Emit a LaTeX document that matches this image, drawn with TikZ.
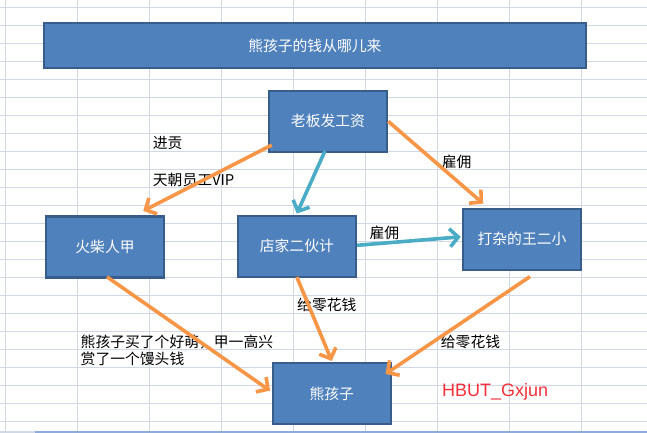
\documentclass[tikz,border=0pt]{standalone}
\usepackage{fontspec}
\setmainfont{Liberation Sans}
\newfontfamily\cjk{Noto Sans CJK SC}
\usetikzlibrary{arrows.meta,calc}
\definecolor{gridc}{HTML}{D0D7E5}
\definecolor{boxfill}{HTML}{4F81BD}
\definecolor{boxedge}{HTML}{385D8A}
\definecolor{orangec}{HTML}{F79646}
\definecolor{tealc}{HTML}{4BACC6}
\definecolor{redc}{HTML}{F5303A}
\definecolor{tabc}{HTML}{8FAADC}
\begin{document}
\begin{tikzpicture}[x=1pt,y=-1pt,
  gridline/.style={draw=gridc, line width=0.9pt},
  box/.style={draw=boxedge, line width=2.5pt, fill=boxfill, text=white,
    font=\cjk\fontsize{14.8}{17}\selectfont, inner sep=0pt,
    minimum width=118pt, minimum height=61pt},
  lbl/.style={anchor=west, inner sep=0pt, text=black,
    font=\cjk\fontsize{14.8}{17}\selectfont},
  orangearrow/.style={draw=orangec, line width=3.6pt,
    -{Straight Barb[length=8.5pt,width=18pt]}},
  tealarrow/.style={draw=tealc, line width=3.6pt,
    -{Straight Barb[length=8.5pt,width=18pt]}}]
\useasboundingbox (0,0) rectangle (647,433);
\fill[white] (0,0) rectangle (647,433);
% spreadsheet grid
\foreach \gx in {5.4,77.5,149.5,221.6,293.7,365.7,437.6,509.7,581.8}
  \draw[gridline] (\gx,0) -- (\gx,431);
\foreach \k in {0,...,23}
  \draw[gridline] (0,{7.3+18*\k}) -- (647,{7.3+18*\k});
\fill[gridc] (0,431) rectangle (35,433);
\fill[tabc] (35,431) rectangle (647,433);

% boxes
\node[box, minimum width=542pt, minimum height=45pt] (title) at (314.85,45.5) {熊孩子的钱从哪儿来};
\node[box] (boss) at (327.95,121.3) {老板发工资};
\node[box] (jia)  at (105,247.15) {火柴人甲};
\node[box] (dian) at (296.85,246.3) {店家二伙计};
\node[box] (wang) at (522,239.35) {打杂的王二小};
\node[box] (kid)  at (331.75,393.7) {熊孩子};

% labels
\node[lbl] (l1) at (152.7,143.3) {进贡};
\node[lbl] (l2) at (152.7,180) {天朝员工VIP};
\node[lbl] (l3) at (441.7,161.7) {雇佣};
\node[lbl] (l4) at (369.3,233.3) {雇佣};
\node[lbl] (l5) at (297,305) {给零花钱};
\node[lbl] (l6) at (80.5,341.7) {熊孩子买了个好萌，甲一高兴};
\node[lbl] (l7) at (80.5,359.3) {赏了一个馒头钱};
\node[lbl] (l8) at (440.7,341.7) {给零花钱};
\node[anchor=west, inner sep=0pt, text=redc, font=\fontsize{18}{20}\selectfont] (sig) at (442,391.7) {HBUT\_Gxjun};

% connectors
\draw[orangearrow] ($(boss.south west)+(4,-8)$) -- ($(jia.north west)+(98.5,-4.5)$);
\draw[tealarrow] ($(boss.south)+(-3,-2)$) -- ($(dian.north)+(0,-1)$);
\draw[orangearrow] (boss.east) -- ($(wang.north west)+(21.5,-4)$);
\draw[tealarrow] ($(dian.east)+(0,-1)$) -- ($(wang.west)+(-1,-2.5)$);
\draw[orangearrow] ($(jia.south)+(2,-2)$) -- ($(kid.west)+(-1.5,-3)$);
\draw[orangearrow] ($(dian.south)+(0,-1)$) -- ($(kid.north)+(0,-1)$);
\draw[orangearrow] ($(wang.south)+(8,5.5)$) -- ($(kid.north east)+(-6.5,12)$);
\end{tikzpicture}
\end{document}
